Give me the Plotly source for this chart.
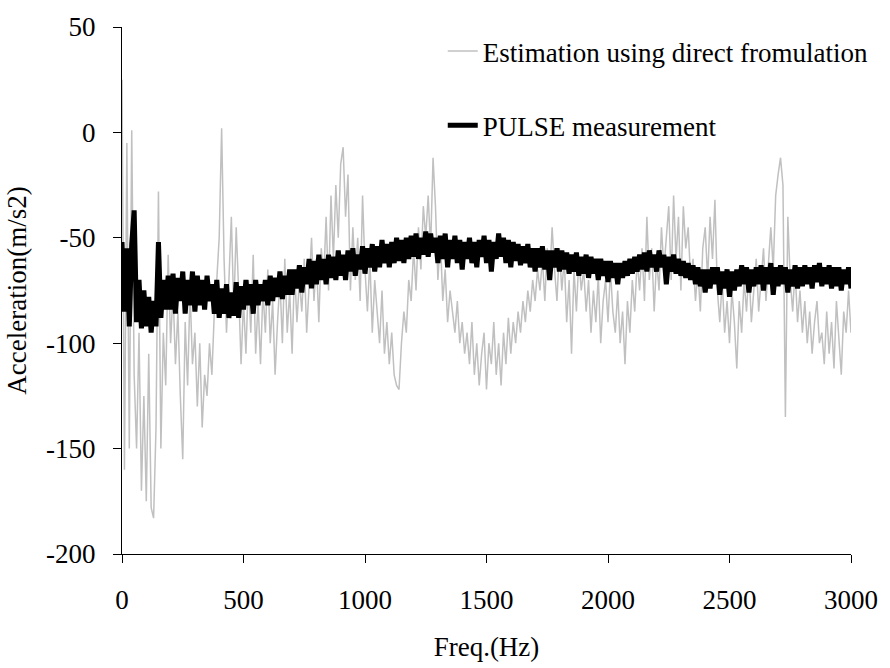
import plotly.graph_objects as go

freq_step_hz = 10
freq_hz = [i * freq_step_hz for i in range(301)]

estimation_direct = [
    25, -160, -5, -150, 1, -115, -150, -95, -170, -125,
    -175, -105, -178, -183, -140, -28, -150, -95, -120, -58,
    -100, -75, -110, -85, -125, -155, -90, -120, -75, -110,
    -95, -130, -100, -140, -115, -125, -100, -115, -85, -70,
    -50, 2, -60, -95, -70, -40, -85, -45, -75, -110,
    -80, -105, -70, -95, -58, -105, -80, -110, -75, -95,
    -65, -100, -80, -115, -90, -70, -100, -60, -95, -75,
    -105, -65, -90, -70, -85, -60, -95, -75, -50, -80,
    -60, -90, -55, -70, -40, -75, -30, -60, -25, -50,
    -15, -7, -40, -20, -75, -45, -70, -50, -80, -30,
    -65, -85, -60, -95, -70, -85, -100, -75, -105, -90,
    -110, -95, -115, -120, -122, -100, -85, -95, -70, -80,
    -55, -75, -45, -65, -35, -50, -30, -55, -12, -35,
    -70, -50, -80, -65, -90, -75, -85, -95, -80, -100,
    -90, -105, -95, -110, -90, -115, -100, -120, -105, -95,
    -122, -100, -110, -90, -115, -100, -120, -95, -110, -88,
    -105, -90, -100, -85, -95, -80, -90, -75, -85, -70,
    -80, -65, -75, -60, -80, -55, -70, -45, -65, -80,
    -55, -75, -60, -90, -70, -105, -65, -85, -60, -75,
    -65, -85, -70, -95, -75, -90, -68, -100, -80, -70,
    -90, -65, -85, -95, -75, -100, -85, -110, -80, -95,
    -70, -85, -60, -75, -55, -80, -40, -70, -55, -85,
    -60, -75, -45, -65, -50, -35, -70, -30, -60, -40,
    -75, -35, -55, -45, -70, -60, -80, -65, -85, -55,
    -45, -70, -40, -60, -32, -75, -90, -70, -95, -80,
    -100, -75, -90, -112, -80, -95, -70, -85, -65, -90,
    -75, -60, -85, -70, -55, -80, -60, -45, -65, -30,
    -20, -12, -25, -135, -40, -70, -85, -65, -90, -75,
    -95, -80, -100, -85, -105, -90, -80, -100, -95, -110,
    -85, -105, -90, -112, -80, -100, -115, -85, -95, -75,
    -95,
]

pulse_measurement = [
    -52, -85, -55, -92, -53, -37, -90, -70, -93, -75,
    -92, -78, -95, -80, -92, -52, -88, -70, -84, -68,
    -84, -67, -86, -69, -80, -66, -86, -70, -82, -66,
    -85, -68, -82, -70, -84, -68, -80, -72, -86, -70,
    -88, -74, -86, -72, -88, -76, -87, -71, -88, -73,
    -84, -70, -82, -72, -86, -70, -82, -72, -80, -70,
    -82, -68, -80, -69, -78, -66, -79, -68, -77, -65,
    -77, -65, -74, -63, -76, -64, -72, -60, -74, -61,
    -72, -58, -70, -60, -72, -58, -69, -59, -70, -56,
    -68, -58, -70, -56, -66, -55, -68, -58, -65, -54,
    -67, -55, -64, -53, -66, -54, -64, -51, -62, -53,
    -64, -52, -62, -50, -61, -51, -62, -50, -60, -49,
    -59, -48, -60, -50, -58, -47, -59, -48, -57, -50,
    -62, -49, -60, -48, -64, -51, -60, -49, -62, -51,
    -65, -52, -60, -50, -62, -52, -64, -51, -59, -49,
    -62, -51, -66, -52, -60, -48, -59, -50, -62, -51,
    -64, -52, -61, -53, -63, -54, -62, -53, -64, -55,
    -66, -55, -64, -54, -65, -56, -70, -56, -64, -55,
    -66, -56, -65, -57, -67, -58, -66, -57, -68, -59,
    -67, -58, -69, -59, -67, -60, -70, -60, -68, -61,
    -71, -61, -69, -62, -72, -62, -69, -61, -68, -60,
    -67, -59, -66, -58, -65, -57, -66, -56, -64, -58,
    -66, -56, -64, -58, -72, -59, -66, -58, -67, -60,
    -68, -61, -69, -62, -70, -63, -72, -64, -73, -65,
    -76, -65, -74, -64, -72, -64, -77, -66, -74, -65,
    -78, -66, -75, -65, -73, -63, -72, -64, -76, -65,
    -73, -64, -72, -63, -75, -64, -72, -62, -77, -64,
    -73, -63, -72, -64, -76, -65, -73, -63, -74, -64,
    -73, -63, -72, -64, -74, -63, -71, -62, -73, -64,
    -72, -63, -74, -64, -73, -64, -75, -65, -72, -64,
    -74,
]

x_ticks = [0, 500, 1000, 1500, 2000, 2500, 3000]
y_ticks = [-200, -150, -100, -50, 0, 50]

FONT = "Liberation Serif, Times New Roman, serif"

fig = go.Figure()
fig.add_trace(go.Scatter(
    x=freq_hz, y=estimation_direct, mode="lines",
    name="Estimation using direct fromulation",
    line=dict(color="#C0C0C0", width=1.5),
    legendgroup="g1",
))
fig.add_trace(go.Scatter(
    x=freq_hz, y=pulse_measurement, mode="lines",
    name="PULSE measurement",
    line=dict(color="#000000", width=5),
    legendgroup="g2",
))

axis_common = dict(
    showline=True, linecolor="#000000", linewidth=1,
    ticks="outside", ticklen=8, tickcolor="#000000", tickwidth=1,
    showgrid=False, zeroline=False,
    tickfont=dict(family=FONT, size=27, color="#000000"),
)

fig.update_layout(
    width=890, height=668,
    margin=dict(l=122, r=39, t=21, b=108),
    paper_bgcolor="#FFFFFF", plot_bgcolor="#FFFFFF",
    font=dict(family=FONT, size=27, color="#000000"),
    xaxis=dict(range=[0, 3000], tickvals=x_ticks,
               ticktext=[str(v) for v in x_ticks], ticklabelstandoff=14,
               title=dict(text="Freq.(Hz)", font=dict(family=FONT, size=27), standoff=22),
               **axis_common),
    yaxis=dict(range=[-200, 50], tickvals=y_ticks,
               ticktext=[str(v) for v in y_ticks], ticklabelstandoff=12,
               title=dict(text="Acceleration(m/s2)", font=dict(family=FONT, size=27), standoff=11),
               **axis_common),
    showlegend=True,
    legend=dict(x=0.44, y=1.0, xanchor="left", yanchor="top",
                bgcolor="rgba(0,0,0,0)", borderwidth=0,
                tracegroupgap=36, itemwidth=30,
                font=dict(family=FONT, size=27, color="#000000")),
)

fig.write_html("out.html")
